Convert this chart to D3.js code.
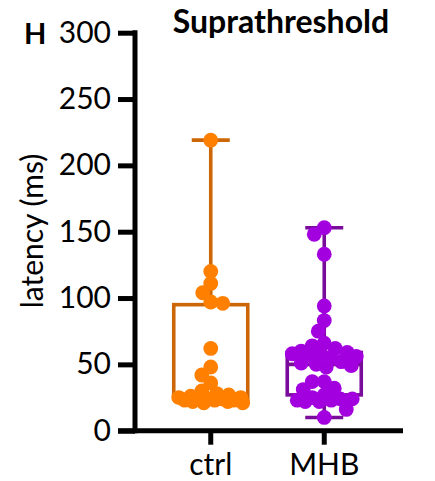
<!DOCTYPE html>
<html>
<head>
<meta charset="utf-8">
<script src="https://cdn.jsdelivr.net/npm/d3@7"></script>
<style>
  body { margin: 0; background: #fff; }
  text { font-family: Lato, "Open Sans", sans-serif; fill: #000; }
</style>
</head>
<body>
<svg id="chart" width="435" height="481"></svg>
<script>
// groups on the x axis
const groups = ['ctrl', 'MHB'];
// individual latencies (ms)
const ctrlValues = [219, 120, 111, 104, 97, 96, 62, 48, 42, 36, 30, 28, 27, 26, 25, 25, 24, 24, 24, 23, 23, 23, 22, 22, 21, 21];
const mhbValues = [153, 148, 133, 94, 83, 75, 66, 64, 62, 60, 59, 58, 58, 57, 56, 55, 52, 51, 50, 49, 48, 37, 37, 32, 31, 27, 25, 24, 24, 23, 23, 22, 22, 16, 10];
// box summaries: min, q1, median, q3, max
const ctrlBox = [21, 24, 26, 95, 219];
const mhbBox = [10, 27, 50, 59, 153];
const yTicks = [0, 50, 100, 150, 200, 250, 300];

const series = [
  { name: 'ctrl', values: ctrlValues, box: ctrlBox, dot: '#ff8000', line: '#cc6606' },
  { name: 'MHB', values: mhbValues, box: mhbBox, dot: '#a300e0', line: '#7a0c9c' },
];

const svg = d3.select('#chart');
const fontSize = 30;
const r = 7.4;

const x = d3.scaleBand().domain(groups).range([154, 381]);
const y = d3.scaleLinear().domain([0, 300]).range([430.7, 32.7]);
const cx = (g) => x(g) + x.bandwidth() / 2;
const boxW = 74;
const capW = 38;

// boxes and whiskers
series.forEach((s) => {
  const [mn, q1, md, q3, mx] = s.box;
  const c = cx(s.name);
  const g = svg.append('g').attr('stroke', s.line).attr('stroke-width', 3.6).attr('fill', 'none');
  g.append('rect').attr('x', c - boxW / 2).attr('y', y(q3)).attr('width', boxW).attr('height', y(q1) - y(q3));
  g.append('line').attr('x1', c - boxW / 2).attr('x2', c + boxW / 2).attr('y1', y(md)).attr('y2', y(md));
  g.append('line').attr('x1', c).attr('x2', c).attr('y1', y(q3)).attr('y2', y(mx));
  g.append('line').attr('x1', c).attr('x2', c).attr('y1', y(q1)).attr('y2', y(mn));
  g.append('line').attr('x1', c - capW / 2).attr('x2', c + capW / 2).attr('y1', y(mx)).attr('y2', y(mx));
  g.append('line').attr('x1', c - capW / 2).attr('x2', c + capW / 2).attr('y1', y(mn)).attr('y2', y(mn));
});

// beeswarm kept inside the box width: take the free spot nearest the centre,
// or, when the row is full, the spot with the least overlap
function swarm(values, spacing, maxDx) {
  const placed = [];
  const grid = d3.range(-maxDx, maxDx + 0.5, 1).sort((a, b) => Math.abs(a) - Math.abs(b) || a - b);
  values.slice().sort((a, b) => b - a).forEach((v) => {
    const py = y(v);
    const near = placed.filter((p) => Math.abs(p.y - py) < spacing);
    const score = (c) => d3.min(near, (p) => Math.hypot(p.dx - c, p.y - py)) ?? Infinity;
    let best = grid.find((c) => score(c) >= spacing);
    if (best === undefined) best = grid.reduce((a, c) => (score(c) > score(a) ? c : a), 0);
    placed.push({ v, y: py, dx: best });
  });
  return placed;
}

series.forEach((s) => {
  const c = cx(s.name);
  svg.append('g')
    .attr('fill', s.dot)
    .selectAll('circle')
    .data(swarm(s.values, r * 1.6, boxW / 2 - 5))
    .join('circle')
    .attr('cx', (d) => c + d.dx)
    .attr('cy', (d) => d.y)
    .attr('r', r);
});

// y axis
svg.append('g')
  .attr('transform', 'translate(135,0)')
  .call(d3.axisLeft(y).tickValues(yTicks).tickSize(17).tickPadding(7))
  .call((g) => g.select('.domain').attr('stroke-width', 5).attr('d', `M0,${y(300) - 2.5}V${y(0) + 2.5}`))
  .call((g) => g.selectAll('.tick line').attr('stroke-width', 5))
  .call((g) => g.selectAll('text').style('font-size', fontSize + 'px').attr('font-family', null));

// x axis
svg.append('g')
  .attr('transform', `translate(0,${y(0)})`)
  .call(d3.axisBottom(x).tickSize(14).tickSizeOuter(0).tickPadding(9))
  .call((g) => g.select('.domain').attr('stroke-width', 5).attr('d', 'M118,0H403'))
  .call((g) => g.selectAll('.tick line').attr('stroke-width', 5).attr('y1', 2))
  .call((g) => g.selectAll('text').style('font-size', fontSize + 'px').attr('font-family', null));

// labels
svg.append('text')
  .attr('transform', `translate(43,${231}) rotate(-90)`)
  .attr('text-anchor', 'middle')
  .style('font-size', fontSize + 'px')
  .text('latency (ms)');

svg.append('text')
  .attr('x', 281).attr('y', 33)
  .attr('text-anchor', 'middle')
  .style('font-size', '32px').style('font-weight', 'bold')
  .text('Suprathreshold');

svg.append('text')
  .attr('x', 24).attr('y', 44)
  .style('font-size', '29px').style('font-weight', 'bold')
  .text('H');
</script>
</body>
</html>
